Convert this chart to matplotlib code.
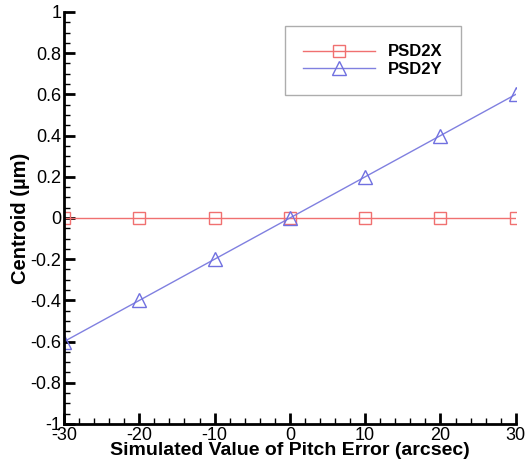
import matplotlib
matplotlib.use("Agg")
import matplotlib.pyplot as plt
from matplotlib.ticker import MultipleLocator

plt.rcParams['font.family'] = ['Liberation Sans', 'DejaVu Sans']
plt.rcParams['axes.unicode_minus'] = False

pitch = [-30, -20, -10, 0, 10, 20, 30]
psd2x = [0, 0, 0, 0, 0, 0, 0]
psd2y = [-0.6, -0.4, -0.2, 0, 0.2, 0.4, 0.6]

fig = plt.figure(figsize=(5.29, 4.72), dpi=100)
ax = fig.add_axes([0.121, 0.1017, 0.854, 0.8729])

ax.plot(pitch, psd2x, color='#f07070', lw=1, marker='s', ms=8, mfc='none',
        mec='#f07070', mew=1, label='PSD2X')
ax.plot(pitch, psd2y, color='#8080e0', lw=1, marker='^', ms=10, mfc='none',
        mec='#7070e0', mew=1, label='PSD2Y')

ax.set_xlim(-30, 30)
ax.set_ylim(-1, 1)
ax.xaxis.set_major_locator(MultipleLocator(10))
ax.xaxis.set_minor_locator(MultipleLocator(2))
ax.yaxis.set_major_locator(MultipleLocator(0.2))
ax.yaxis.set_minor_locator(MultipleLocator(0.05))
ax.yaxis.set_major_formatter(plt.FuncFormatter(lambda v, p: '%g' % round(v, 2)))

for s in ['top', 'right']:
    ax.spines[s].set_visible(False)
for s in ['left', 'bottom']:
    ax.spines[s].set_linewidth(2)
ax.tick_params(which='major', direction='in', length=8, width=2, labelsize=13, pad=2)
ax.tick_params(which='minor', direction='in', length=4, width=1)

ax.set_xlabel('Simulated Value of Pitch Error (arcsec)', fontsize=14, fontweight='bold', labelpad=-1)
ax.set_ylabel('Centroid (µm)', fontsize=14.5, fontweight='bold', labelpad=0)

leg = ax.legend(loc='upper left', bbox_to_anchor=(285 / 529, 1 - 26 / 472),
                bbox_transform=fig.transFigure, borderaxespad=0, fancybox=False,
                shadow=False, prop={'weight': 'bold', 'size': 12}, handlelength=4.3,
                borderpad=1.1, labelspacing=0.15, handletextpad=0.8)
leg.get_frame().set_edgecolor('#999999')
leg.get_frame().set_linewidth(1)

fig.savefig('out.png', dpi=100)
